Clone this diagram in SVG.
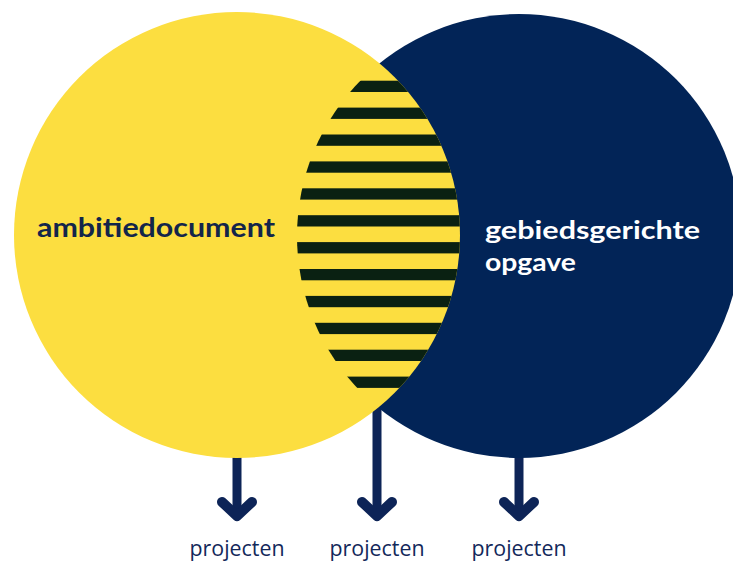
<svg xmlns="http://www.w3.org/2000/svg" width="733" height="562" viewBox="0 0 733 562">
  <style>
    .lbl { font-family: Lato, "Open Sans", "Liberation Sans", sans-serif; font-weight: 700; font-size: 27px; }
    .lbl2 { font-family: Lato, "Open Sans", "Liberation Sans", sans-serif; font-weight: 700; font-size: 25px; }
    .proj { font-family: "Open Sans", "Liberation Sans", sans-serif; font-weight: 400; font-size: 21px; fill: #13285a; }
    .stem { stroke: #0d2457; stroke-width: 9; fill: none; }
    .head { stroke: #0d2457; stroke-width: 10; fill: none; stroke-linecap: round; stroke-linejoin: round; }
    .stripe { fill: #0a2112; }
  </style>
  <defs>
    <clipPath id="clipY"><circle cx="237" cy="235" r="223"/></clipPath>
    <clipPath id="clipN"><circle cx="519" cy="236" r="222"/></clipPath>
  </defs>

  <g id="connectors">
    <g id="arrow-left">
      <line class="stem" x1="237" y1="440" x2="237" y2="512"/>
      <polyline class="head" points="222,502 237,516 252,502"/>
    </g>
    <g id="arrow-middle">
      <line class="stem" x1="377" y1="400" x2="377" y2="512"/>
      <polyline class="head" points="362,502 377,516 392,502"/>
    </g>
    <g id="arrow-right">
      <line class="stem" x1="519" y1="440" x2="519" y2="512"/>
      <polyline class="head" points="504,502 519,516 534,502"/>
    </g>
  </g>

  <g id="node-gebiedsgerichte">
    <circle cx="519" cy="236" r="222" fill="#022457"/>
    <text class="lbl2" fill="#ffffff"><tspan x="485" y="239" textLength="215" lengthAdjust="spacingAndGlyphs">gebiedsgerichte</tspan><tspan x="485" y="270.5" textLength="91" lengthAdjust="spacingAndGlyphs">opgave</tspan></text>
  </g>

  <g id="node-ambitiedocument">
    <circle cx="237" cy="235" r="223" fill="#fcde40"/>
    <text class="lbl" x="37" y="237" fill="#13254a" textLength="238" lengthAdjust="spacingAndGlyphs">ambitiedocument</text>
  </g>

  <g id="overlap" clip-path="url(#clipY)">
    <g clip-path="url(#clipN)">
      <rect class="stripe" x="280" y="80.7" width="200" height="11.3"/>
      <rect class="stripe" x="280" y="107.6" width="200" height="11.3"/>
      <rect class="stripe" x="280" y="134.5" width="200" height="11.3"/>
      <rect class="stripe" x="280" y="161.4" width="200" height="11.3"/>
      <rect class="stripe" x="280" y="188.3" width="200" height="11.3"/>
      <rect class="stripe" x="280" y="215.2" width="200" height="11.3"/>
      <rect class="stripe" x="280" y="242.1" width="200" height="11.3"/>
      <rect class="stripe" x="280" y="269.0" width="200" height="11.3"/>
      <rect class="stripe" x="280" y="295.9" width="200" height="11.3"/>
      <rect class="stripe" x="280" y="322.8" width="200" height="11.3"/>
      <rect class="stripe" x="280" y="349.7" width="200" height="11.3"/>
      <rect class="stripe" x="280" y="376.6" width="200" height="11.3"/>
    </g>
  </g>

  <g id="node-projecten-1">
    <text class="proj" x="237" y="556" text-anchor="middle" textLength="95" lengthAdjust="spacingAndGlyphs">projecten</text>
  </g>
  <g id="node-projecten-2">
    <text class="proj" x="377" y="556" text-anchor="middle" textLength="95" lengthAdjust="spacingAndGlyphs">projecten</text>
  </g>
  <g id="node-projecten-3">
    <text class="proj" x="519" y="556" text-anchor="middle" textLength="95" lengthAdjust="spacingAndGlyphs">projecten</text>
  </g>
</svg>
